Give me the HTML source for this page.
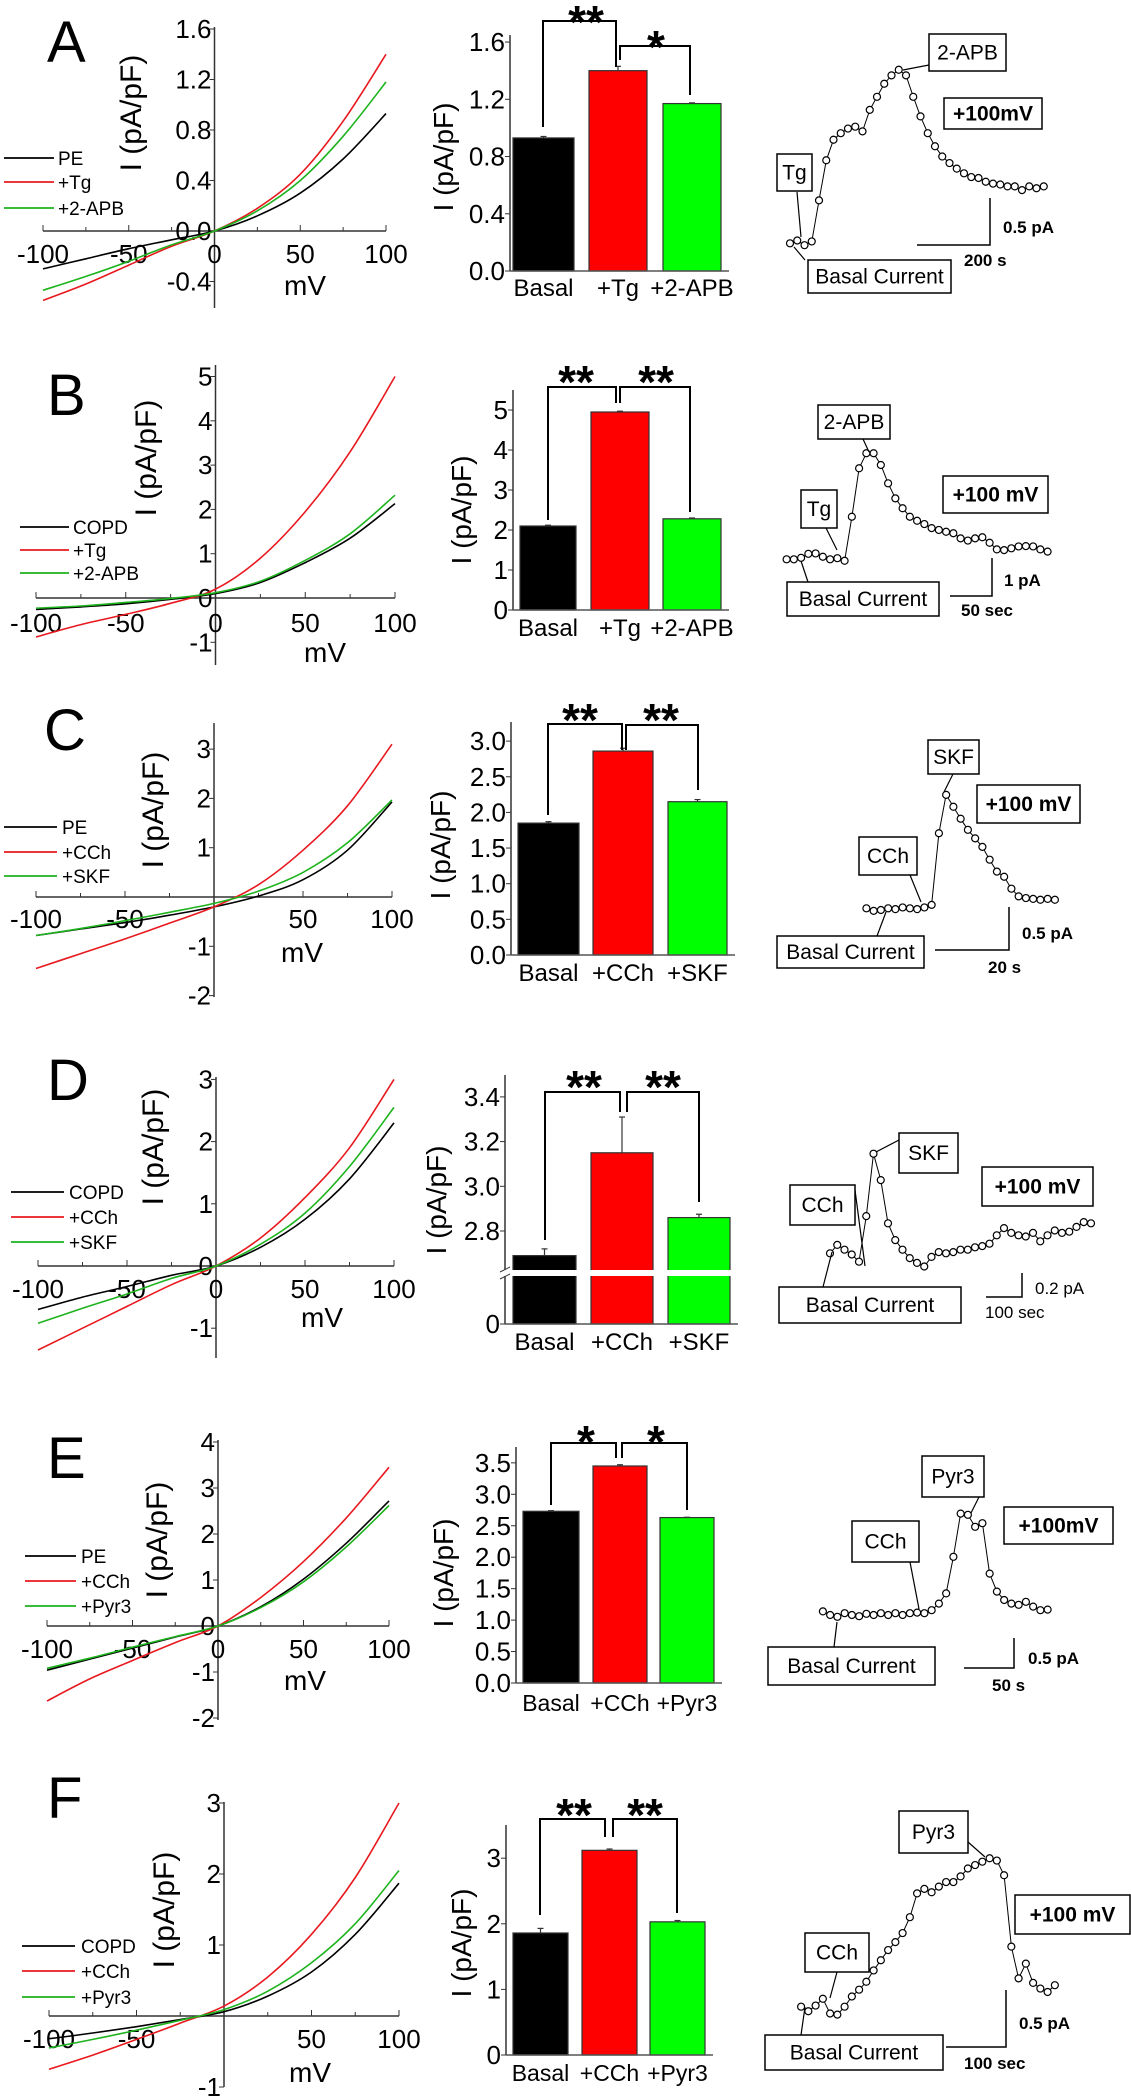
<!DOCTYPE html>
<html><head><meta charset="utf-8"><style>
html,body{margin:0;padding:0;background:#fff;}
svg{display:block;font-family:"Liberation Sans",Arial,sans-serif;}
</style></head><body>
<svg id="fig" width="1131" height="2100" viewBox="0 0 1131 2100" xmlns="http://www.w3.org/2000/svg"></svg>
<script>
// ---------- DATA ----------
const ivVoltages = [-100,-75,-50,-25,0,25,50,75,100];
// Panel A IV
const ivA_PE  = [-0.30,-0.22,-0.14,-0.07,0,0.12,0.30,0.57,0.93];
const ivA_Tg  = [-0.55,-0.42,-0.27,-0.12,0,0.18,0.45,0.87,1.40];
const ivA_APB = [-0.47,-0.36,-0.24,-0.11,0,0.16,0.40,0.75,1.18];
// Panel B IV
const ivB_COPD = [-0.26,-0.20,-0.13,-0.03,0.10,0.35,0.80,1.35,2.13];
const ivB_Tg   = [-0.88,-0.60,-0.37,-0.12,0.20,0.90,1.95,3.30,5.00];
const ivB_APB  = [-0.23,-0.18,-0.10,-0.01,0.12,0.38,0.85,1.45,2.32];
// Panel C IV
const ivC_PE  = [-0.78,-0.65,-0.52,-0.37,-0.20,0.02,0.35,0.95,1.93];
const ivC_CCh = [-1.45,-1.15,-0.85,-0.53,-0.20,0.25,0.95,1.85,3.10];
const ivC_SKF = [-0.78,-0.64,-0.48,-0.31,-0.13,0.12,0.50,1.10,1.97];
// Panel D IV
const ivD_COPD = [-0.70,-0.50,-0.33,-0.15,0,0.30,0.75,1.40,2.30];
const ivD_CCh  = [-1.35,-1.00,-0.65,-0.30,0,0.45,1.10,1.90,3.00];
const ivD_SKF  = [-0.92,-0.68,-0.45,-0.20,0,0.35,0.85,1.60,2.55];
// Panel E IV
const ivE_PE   = [-0.96,-0.72,-0.48,-0.24,0,0.42,1.02,1.80,2.72];
const ivE_CCh  = [-1.63,-1.15,-0.75,-0.36,0,0.62,1.40,2.35,3.45];
const ivE_Pyr3 = [-0.92,-0.70,-0.46,-0.23,0,0.40,0.96,1.72,2.62];
// Panel F IV
const ivF_COPD = [-0.32,-0.24,-0.15,-0.05,0.06,0.28,0.62,1.15,1.87];
const ivF_CCh  = [-0.75,-0.55,-0.33,-0.10,0.14,0.55,1.15,1.95,3.00];
const ivF_Pyr3 = [-0.45,-0.33,-0.20,-0.06,0.09,0.35,0.75,1.30,2.05];

// Bar values / errors
const barA = [0.93,1.40,1.17]; const errA = [0.01,0.03,0.005];
const barB = [2.10,4.95,2.28]; const errB = [0.02,0.02,0.02];
const barC = [1.85,2.86,2.15]; const errC = [0.02,0.04,0.03];
const barD = [2.69,3.15,2.86]; const errD = [0.03,0.16,0.015];
const barE = [2.73,3.45,2.63]; const errE = [0.01,0.02,0.005];
const barF = [1.86,3.12,2.03]; const errF = [0.07,0.02,0.02];
const catsA = ['Basal','+Tg','+2-APB'];
const catsC = ['Basal','+CCh','+SKF'];
const catsE = ['Basal','+CCh','+Pyr3'];

// Tick values
const ivTicksA = [-0.4,0,0.4,0.8,1.2,1.6]; const ivTickLblA = ['-0.4','0.0','0.4','0.8','1.2','1.6'];
const ivTicksB = [-1,0,1,2,3,4,5]; const ivTickLblB = ['-1','0','1','2','3','4','5'];
const ivTicksC = [-2,-1,0,1,2,3]; const ivTickLblC = ['-2','-1','','1','2','3'];
const ivTicksD = [-1,0,1,2,3]; const ivTickLblD = ['-1','0','1','2','3'];
const ivTicksE = [-2,-1,0,1,2,3,4]; const ivTickLblE = ['-2','-1','0','1','2','3','4'];
const ivTicksF = [-1,0,1,2,3]; const ivTickLblF = ['-1','','1','2','3'];
const xTicksIV = [-100,-50,0,50,100];
const xTickLblFull = ['-100','-50','0','50','100'];
const xTickLblNo0 = ['-100','-50','','50','100'];

const barTicksA = [0,0.4,0.8,1.2,1.6]; const barTickLblA = ['0.0','0.4','0.8','1.2','1.6'];
const barTicksB = [0,1,2,3,4,5]; const barTickLblB = ['0','1','2','3','4','5'];
const barTicksC = [0,0.5,1,1.5,2,2.5,3]; const barTickLblC = ['0.0','0.5','1.0','1.5','2.0','2.5','3.0'];
const barTicksD = [0,2.8,3.0,3.2,3.4]; const barTickLblD = ['0','2.8','3.0','3.2','3.4'];
const barTicksE = [0,0.5,1,1.5,2,2.5,3,3.5]; const barTickLblE = ['0.0','0.5','1.0','1.5','2.0','2.5','3.0','3.5'];
const barTicksF = [0,1,2,3]; const barTickLblF = ['0','1','2','3'];

// Time traces (pA relative to basal, uniform time steps)
const traceA = [0,0.03,-0.02,0.02,0.46,0.89,1.11,1.18,1.23,1.25,1.20,1.43,1.57,1.71,1.80,1.86,1.80,1.57,1.36,1.18,1.04,0.93,0.86,0.80,0.75,0.71,0.70,0.66,0.64,0.63,0.61,0.61,0.57,0.61,0.59,0.61];
const traceB = [0,0,0.04,0.15,0.16,0.07,0,0.03,-0.04,1.16,2.48,2.89,2.89,2.57,2.07,1.66,1.39,1.16,1.05,0.96,0.85,0.80,0.75,0.71,0.57,0.51,0.57,0.60,0.45,0.27,0.25,0.30,0.35,0.36,0.35,0.27,0.21];
const traceC = [0.02,-0.01,0,0.02,0.01,0.03,0.02,0.01,0.03,0.06,0.90,1.35,1.21,1.07,0.94,0.84,0.74,0.59,0.45,0.39,0.25,0.16,0.14,0.13,0.12,0.13,0.12];
const traceD = [0,0.07,0.03,-0.01,-0.07,0.31,0.83,0.61,0.25,0.11,0.03,-0.04,-0.08,-0.11,-0.03,0.01,0,0.01,0.03,0.03,0.05,0.06,0.08,0.15,0.21,0.17,0.15,0.14,0.17,0.10,0.15,0.19,0.17,0.18,0.22,0.26,0.25];
const traceE = [0.06,0,-0.03,0.03,0,-0.02,0.02,0,0.03,0,0.03,0,0.03,0.04,0.03,0.08,0.19,0.36,0.97,1.69,1.67,1.47,1.53,0.69,0.39,0.25,0.19,0.17,0.22,0.14,0.08,0.09];
const traceF = [0,-0.04,0.01,0.07,-0.06,-0.07,0,0.09,0.15,0.22,0.32,0.41,0.50,0.57,0.65,0.79,1.00,1.04,1.01,1.06,1.10,1.10,1.15,1.22,1.25,1.28,1.31,1.29,1.16,0.53,0.25,0.38,0.21,0.16,0.13,0.19];

// ---------- DRAWING ----------
const NS = 'http://www.w3.org/2000/svg';
const svg = document.getElementById('fig');
function mk(tag, attrs, name, parent) {
  const el = document.createElementNS(NS, tag);
  for (const k in attrs) el.setAttribute(k, attrs[k]);
  
  
  (parent || svg).appendChild(el);
  return el;
}
function txt(x, y, s, size, name, parent, anchor, weight, rot) {
  const t = mk('text', {x: x, y: y, 'font-size': size, 'text-anchor': anchor || 'start', 'font-weight': weight || 'normal', fill: '#000'}, name, parent);
  if (rot) t.setAttribute('transform', 'rotate(' + rot + ' ' + x + ' ' + y + ')');
  t.textContent = s;
  return t;
}
function line(x1, y1, x2, y2, name, parent, w, col) {
  return mk('line', {x1: x1, y1: y1, x2: x2, y2: y2, stroke: col || '#000', 'stroke-width': w || 1.5}, name, parent);
}
function smoothPath(pts) {
  let d = 'M' + pts[0][0].toFixed(1) + ',' + pts[0][1].toFixed(1);
  for (let i = 0; i < pts.length - 1; i++) {
    const p0 = pts[i - 1] || pts[i], p1 = pts[i], p2 = pts[i + 1], p3 = pts[i + 2] || p2;
    const c1x = p1[0] + (p2[0] - p0[0]) / 6, c1y = p1[1] + (p2[1] - p0[1]) / 6;
    const c2x = p2[0] - (p3[0] - p1[0]) / 6, c2y = p2[1] - (p3[1] - p1[1]) / 6;
    d += ' C' + c1x.toFixed(1) + ',' + c1y.toFixed(1) + ' ' + c2x.toFixed(1) + ',' + c2y.toFixed(1) + ' ' + p2[0].toFixed(1) + ',' + p2[1].toFixed(1);
  }
  return d;
}

function ivPanel(c) {
  const g = mk('g', {}, 'iv-plot-' + c.id);
  const xs = v => c.x0 + (v + 100) / 200 * (c.x1 - c.x0);
  const ys = v => c.y0 - v * c.ppu;
  const ax = xs(0);
  txt(c.letter[0], c.letter[1], c.id.toUpperCase(), 58, 'panel-letter', g);
  line(c.x0, c.y0, c.x1, c.y0, 'x-axis', g, 1.5, '#333');
  line(ax, c.top, ax, c.bottom, 'y-axis', g, 1.5, '#333');
  for (let v = -100; v <= 100; v += 25) line(xs(v), c.y0, xs(v), c.y0 - (v % 50 === 0 ? 6 : 4), 'x-tick', g, 1, '#333');
  xTicksIV.forEach((v, i) => { if (c.xl[i]) txt(xs(v), c.xLabelY, c.xl[i], 26, 'x-tick-label', g, 'middle'); });
  c.yt.forEach((v, i) => {
    line(ax - 5, ys(v), ax, ys(v), 'y-tick', g, 1, '#333');
    if (c.yl[i]) txt(ax - 3, ys(v) + 9, c.yl[i], 26, 'y-tick-label', g, 'end');
  });
  txt(c.title[0], c.title[1], 'I (pA/pF)', 30, 'y-axis-title', g, 'middle', 'normal', -90);
  txt(c.mv[0], c.mv[1], 'mV', 28, 'x-axis-title', g, 'middle');
  c.series.forEach((s, k) => {
    const pts = ivVoltages.map((v, i) => [xs(v), ys(s.vals[i])]);
    mk('path', {d: smoothPath(pts), fill: 'none', stroke: s.color, 'stroke-width': 1.6}, 'iv-curve-' + s.name, g);
    const ly = c.legend.ys[k];
    line(c.legend.x1, ly, c.legend.x2, ly, 'legend-line', g, 1.8, s.color);
    txt(c.legend.tx, ly + 7, s.label, 19, 'legend-label', g);
  });
}

function barPanel(c) {
  const g = mk('g', {}, 'bar-chart-' + c.id);
  const ys = c.scale || (v => c.y0 - v * c.ppu);
  const colors = ['#000000', '#ff0000', '#00ff00'];
  const right = c.bars[2][1] + 8;
  c.vals.forEach((v, i) => {
    const [l, r] = c.bars[i];
    const cx = (l + r) / 2;
    const top = ys(v);
    line(cx, ys(v + c.errs[i]), cx, top, 'error-bar', g, 1.2, '#333');
    line(cx - 3, ys(v + c.errs[i]), cx + 3, ys(v + c.errs[i]), 'error-cap', g, 1.2, '#333');
    mk('rect', {x: l, y: top, width: r - l, height: c.y0 - top, fill: colors[i], stroke: '#333', 'stroke-width': 1.2}, 'bar-' + c.cats[i].replace(/[^A-Za-z0-9]/g, '').toLowerCase(), g);
    txt(cx, c.xLabelY, c.cats[i], c.catSize || 24, 'category-label', g, 'middle');
  });
  if (c.brk) {
    mk('rect', {x: c.axisX - 6, y: c.brk[0], width: right - c.axisX + 10, height: c.brk[1] - c.brk[0], fill: '#fff'}, 'axis-break-gap', g);
    line(c.axisX - 5, c.brk[0] + 2, c.axisX + 5, c.brk[0] - 3, 'axis-break-mark', g, 1, '#333');
    line(c.axisX - 5, c.brk[1] + 3, c.axisX + 5, c.brk[1] - 2, 'axis-break-mark', g, 1, '#333');
    line(c.axisX, c.top, c.axisX, c.brk[0], 'y-axis', g, 1.5, '#333');
    line(c.axisX, c.brk[1], c.axisX, c.y0, 'y-axis', g, 1.5, '#333');
  } else {
    line(c.axisX, c.top, c.axisX, c.y0, 'y-axis', g, 1.5, '#333');
  }
  line(c.axisX, c.y0, right, c.y0, 'x-axis', g, 1.5, '#555');
  c.ticks.forEach((v, i) => {
    line(c.axisX - 5, ys(v), c.axisX, ys(v), 'y-tick', g, 1, '#333');
    txt(c.axisX - 5, ys(v) + 9, c.tl[i], 26, 'y-tick-label', g, 'end');
  });
  txt(c.title[0], c.title[1], 'I (pA/pF)', 28, 'y-axis-title', g, 'middle', 'normal', -90);
  c.brackets.forEach(b => {
    mk('polyline', {points: b[0] + ',' + b[3] + ' ' + b[0] + ',' + b[2] + ' ' + b[1] + ',' + b[2] + ' ' + b[1] + ',' + b[4], fill: 'none', stroke: '#000', 'stroke-width': 2}, 'significance-bracket', g);
  });
  c.stars.forEach(s => txt(s[1], s[2] + 26, s[0], 46, 'significance-stars', g, 'middle', 'bold'));
}

function tracePanel(c) {
  const g = mk('g', {}, 'current-trace-' + c.id);
  const xs = i => c.x0 + i * 7.25;
  const ys = v => c.Y0 - v * c.pxPA;
  const pts = c.vals.map((v, i) => xs(i).toFixed(1) + ',' + ys(v).toFixed(1)).join(' ');
  mk('polyline', {points: pts, fill: 'none', stroke: '#000', 'stroke-width': 1}, 'trace-line', g);
  c.vals.forEach((v, i) => mk('circle', {cx: xs(i), cy: ys(v), r: 3.5, fill: '#fff', stroke: '#000', 'stroke-width': 1.2}, 'trace-point', g));
  c.arrows.forEach(a => line(a[0], a[1], a[2], a[3], 'annotation-arrow', g, 1.2));
  c.boxes.forEach(b => {
    mk('rect', {x: b[1], y: b[2], width: b[3], height: b[4], fill: '#fff', stroke: '#000', 'stroke-width': 1.5}, 'annotation-box', g);
    txt(b[1] + b[3] / 2, b[2] + b[4] / 2 + 7, b[0], b[5] ? 21 : 21, 'annotation-label', g, 'middle', b[5] ? 'bold' : 'normal');
  });
  const s = c.sb;
  mk('polyline', {points: s.hx + ',' + s.vy2 + ' ' + s.vx + ',' + s.vy2 + ' ' + s.vx + ',' + s.vy1, fill: 'none', stroke: '#000', 'stroke-width': 1.5}, 'scale-bar', g);
  txt(s.l1[0], s.l1[1], s.l1[2], 17, 'scale-bar-current-label', g, 'start', s.bold ? 'bold' : 'normal');
  txt(s.l2[0], s.l2[1], s.l2[2], 17, 'scale-bar-time-label', g, 'start', s.bold ? 'bold' : 'normal');
}

const RED = '#e8191e', GRN = '#1db31d', BLK = '#000';
// IV panels
ivPanel({id:'a', x0:43, x1:386, y0:231, ppu:126.25, top:27, bottom:308, yt:ivTicksA, yl:ivTickLblA, xl:xTickLblFull, xLabelY:263, letter:[47,62], title:[141,113], mv:[305,295], legend:{x1:4,x2:54,tx:58,ys:[158,182,208]},
  series:[{name:'pe',label:'PE',vals:ivA_PE,color:BLK},{name:'tg',label:'+Tg',vals:ivA_Tg,color:RED},{name:'2apb',label:'+2-APB',vals:ivA_APB,color:GRN}]});
ivPanel({id:'b', x0:36, x1:395, y0:598, ppu:44.3, top:365, bottom:665, yt:ivTicksB, yl:ivTickLblB, xl:xTickLblFull, xLabelY:632, letter:[47,415], title:[156,458], mv:[325,662], legend:{x1:20,x2:69,tx:73,ys:[527,550,573]},
  series:[{name:'copd',label:'COPD',vals:ivB_COPD,color:BLK},{name:'tg',label:'+Tg',vals:ivB_Tg,color:RED},{name:'2apb',label:'+2-APB',vals:ivB_APB,color:GRN}]});
ivPanel({id:'c', x0:36, x1:392, y0:897, ppu:49.3, top:723, bottom:997, yt:ivTicksC, yl:ivTickLblC, xl:xTickLblNo0, xLabelY:928, letter:[44,750], title:[163,810], mv:[302,962], legend:{x1:4,x2:57,tx:62,ys:[827,852,876]},
  series:[{name:'pe',label:'PE',vals:ivC_PE,color:BLK},{name:'cch',label:'+CCh',vals:ivC_CCh,color:RED},{name:'skf',label:'+SKF',vals:ivC_SKF,color:GRN}]});
ivPanel({id:'d', x0:38, x1:394, y0:1266, ppu:62.2, top:1077, bottom:1358, yt:ivTicksD, yl:ivTickLblD, xl:xTickLblFull, xLabelY:1298, letter:[47,1100], title:[163,1147], mv:[322,1327], legend:{x1:11,x2:64,tx:69,ys:[1192,1217,1242]},
  series:[{name:'copd',label:'COPD',vals:ivD_COPD,color:BLK},{name:'cch',label:'+CCh',vals:ivD_CCh,color:RED},{name:'skf',label:'+SKF',vals:ivD_SKF,color:GRN}]});
ivPanel({id:'e', x0:47, x1:389, y0:1626, ppu:46, top:1440, bottom:1720, yt:ivTicksE, yl:ivTickLblE, xl:xTickLblFull, xLabelY:1658, letter:[47,1478], title:[167,1540], mv:[305,1690], legend:{x1:25,x2:76,tx:81,ys:[1556,1581,1606]},
  series:[{name:'pe',label:'PE',vals:ivE_PE,color:BLK},{name:'cch',label:'+CCh',vals:ivE_CCh,color:RED},{name:'pyr3',label:'+Pyr3',vals:ivE_Pyr3,color:GRN}]});
ivPanel({id:'f', x0:49, x1:399, y0:2016, ppu:71, top:1802, bottom:2087, yt:ivTicksF, yl:ivTickLblF, xl:xTickLblNo0, xLabelY:2048, letter:[47,1818], title:[174,1910], mv:[310,2082], legend:{x1:22,x2:75,tx:81,ys:[1946,1971,1997]},
  series:[{name:'copd',label:'COPD',vals:ivF_COPD,color:BLK},{name:'cch',label:'+CCh',vals:ivF_CCh,color:RED},{name:'pyr3',label:'+Pyr3',vals:ivF_Pyr3,color:GRN}]});

// Bar panels
barPanel({id:'a', axisX:510, y0:271, ppu:143.1, top:35, bars:[[513,574],[589,647],[663,721]], vals:barA, errs:errA, cats:catsA, ticks:barTicksA, tl:barTickLblA, xLabelY:296, title:[453,157],
  brackets:[[543,616,21,127,67],[620,690,46,60,95]], stars:[['**',586,12],['*',656,37]]});
barPanel({id:'b', axisX:513, y0:610, ppu:40, top:390, bars:[[520,576],[591,649],[663,721]], vals:barB, errs:errB, cats:catsA, ticks:barTicksB, tl:barTickLblB, xLabelY:636, title:[471,510],
  brackets:[[548,616,387,520,403],[620,690,387,403,512]], stars:[['**',576,372],['**',656,372]]});
barPanel({id:'c', axisX:511, y0:955, ppu:71.3, top:722, bars:[[518,579],[593,653],[668,727]], vals:barC, errs:errC, cats:catsC, ticks:barTicksC, tl:barTickLblC, xLabelY:981, title:[450,845],
  brackets:[[548,622,724,815,750],[626,698,725,750,790]], stars:[['**',580,710],['**',661,710]]});
barPanel({id:'d', axisX:505, y0:1324, top:1075, bars:[[513,576],[591,653],[668,730]], vals:barD, errs:errD, cats:catsC, ticks:barTicksD, tl:barTickLblD, xLabelY:1350, title:[446,1200],
  scale: v => v < 1 ? 1324 - v : 1231 - (v - 2.8) * 223.5, brk:[1270,1276],
  brackets:[[545,620,1092,1240,1112],[627,699,1092,1112,1202]], stars:[['**',584,1077],['**',663,1077]]});
barPanel({id:'e', axisX:516, y0:1683, ppu:62.9, top:1447, bars:[[523,579],[593,647],[660,714]], vals:barE, errs:errE, cats:catsE, catSize:23, ticks:barTicksE, tl:barTickLblE, xLabelY:1711, title:[453,1573],
  brackets:[[551,616,1443,1505,1458],[622,687,1443,1458,1510]], stars:[['*',586,1432],['*',656,1432]]});
barPanel({id:'f', axisX:506, y0:2055, ppu:65.6, top:1825, bars:[[513,568],[582,637],[650,705]], vals:barF, errs:errF, cats:catsE, catSize:23, ticks:barTicksF, tl:barTickLblF, xLabelY:2081, title:[471,1943],
  brackets:[[540,605,1819,1915,1837],[613,677,1819,1837,1913]], stars:[['**',574,1805],['**',645,1805]]});

// Trace panels
tracePanel({id:'a', x0:790, Y0:243.3, pxPA:93.3, vals:traceA,
  arrows:[[929,65,903,70],[797,192,801,237],[805,260,794,247]],
  boxes:[['2-APB',929,34,77,37],['+100mV',944,98,98,31,1],['Tg',777,154,35,37],['Basal Current',808,260,143,33]],
  sb:{vx:990,vy1:198,vy2:245,hx:917,bold:1,l1:[1003,233,'0.5 pA'],l2:[964,266,'200 s']}});
tracePanel({id:'b', x0:786.6, Y0:559.3, pxPA:36.7, vals:traceB,
  arrows:[[863,439,869,452],[826,528,837,550],[808,582,801,561]],
  boxes:[['2-APB',818,405,72,34],['+100 mV',943,476,105,37,1],['Tg',801,490,36,38],['Basal Current',787,582,152,34]],
  sb:{vx:992,vy1:558,vy2:596,hx:950,bold:1,l1:[1004,586,'1 pA'],l2:[961,616,'50 sec']}});
tracePanel({id:'c', x0:866.4, Y0:910, pxPA:85.3, vals:traceC,
  arrows:[[953,774,944,792],[910,875,921,902],[877,936,886,912]],
  boxes:[['SKF',928,740,51,34],['+100 mV',977,785,103,38,1],['CCh',859,837,58,38],['Basal Current',777,936,147,32]],
  sb:{vx:1009,vy1:907,vy2:950,hx:935,bold:1,l1:[1022,939,'0.5 pA'],l2:[988,973,'20 s']}});
tracePanel({id:'d', x0:830, Y0:1253.3, pxPA:120, vals:traceD,
  arrows:[[899,1140,876,1152],[855,1190,865,1266],[823,1287,832,1252]],
  boxes:[['SKF',899,1133,59,40],['+100 mV',982,1167,111,39,1],['CCh',790,1185,65,40],['Basal Current',779,1287,182,36]],
  sb:{vx:1022,vy1:1273,vy2:1297,hx:986,bold:0,l1:[1035,1294,'0.2 pA'],l2:[985,1318,'100 sec']}});
tracePanel({id:'e', x0:822.9, Y0:1615, pxPA:60, vals:traceE,
  arrows:[[979,1497,971,1513],[910,1562,919,1609],[834,1647,837,1622]],
  boxes:[['Pyr3',922,1456,62,41],['+100mV',1004,1507,109,37,1],['CCh',852,1521,67,41],['Basal Current',768,1647,167,38]],
  sb:{vx:1014,vy1:1638,vy2:1668,hx:964,bold:1,l1:[1028,1664,'0.5 pA'],l2:[992,1691,'50 s']}});
tracePanel({id:'f', x0:801.1, Y0:2006.7, pxPA:113.3, vals:traceF,
  arrows:[[968,1842,985,1857],[837,1972,830,1998],[801,2035,805,2007]],
  boxes:[['Pyr3',899,1811,69,42],['+100 mV',1015,1895,115,39,1],['CCh',805,1933,64,39],['Basal Current',765,2035,178,35]],
  sb:{vx:1006,vy1:1990,vy2:2047,hx:946,bold:1,l1:[1019,2029,'0.5 pA'],l2:[964,2069,'100 sec']}});
</script>
</body></html>
